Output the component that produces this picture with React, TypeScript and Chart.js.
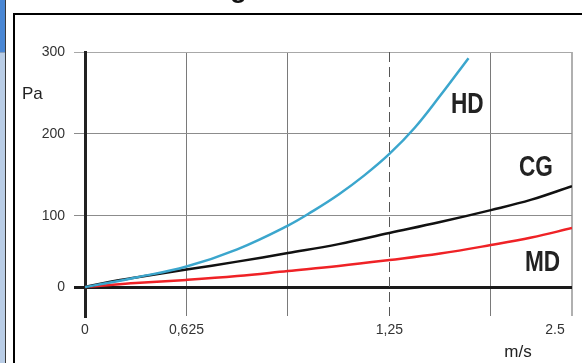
import React, { useEffect, useRef } from "react";
import { Chart, registerables } from "chart.js";
Chart.register(...registerables);

// Axis ticks (x in grid units, y in chart units)
const xTickValues = [0, 1, 2, 3, 4, 4.8];
const xTickLabels = ["0", "0,625", "", "1,25", "", "2.5"];
const yTickValues = [0, 87, 187, 287];
const yTickLabels = ["0", "100", "200", "300"];

// Series
const hdX = [0, 0.25, 0.5, 1, 1.5, 2, 2.25, 2.5, 2.75, 3, 3.25, 3.5, 3.78];
const hdY = [0, 5.5, 11.6, 25, 46, 75, 93, 113, 136, 162.5, 194.5, 233.5, 279.5];
const cgX = [0, 0.25, 0.5, 1, 1.5, 2, 2.5, 3, 3.5, 4, 4.4, 4.8];
const cgY = [0, 6.5, 11.6, 21.3, 31.0, 41.5, 52.4, 65.9, 79.3, 93.9, 106.7, 123.2];
const mdX = [0, 0.25, 0.5, 1, 1.5, 2, 2.5, 3, 3.5, 4, 4.4, 4.8];
const mdY = [0, 2.6, 4.9, 8.7, 13.4, 19.5, 25.6, 32.9, 40.9, 51.2, 60.4, 72.0];
const seriesNames = ["HD", "CG", "MD"];

const W = 582;
const H = 363;
const FONT = '"Liberation Sans", Arial, sans-serif';

const pts = (xs: number[], ys: number[]) => xs.map((x, i) => ({ x, y: ys[i] }));

export default function App() {
  const ref = useRef<HTMLCanvasElement | null>(null);

  useEffect(() => {
    if (!ref.current) return;

    const framePlugin = {
      id: "frame",
      beforeDraw(chart: any) {
        const c = chart.ctx;
        c.save();
        c.fillStyle = "#ffffff";
        c.fillRect(0, 0, W, H);
        // left strip
        c.fillStyle = "#4a87d4";
        c.fillRect(0, 0, 5, 52);
        c.fillStyle = "#b9cde6";
        c.fillRect(0, 53, 5, H - 53);
        c.fillStyle = "#8aa0bb";
        c.fillRect(0, 52, 5, 1);
        c.fillStyle = "#3a3a3a";
        c.fillRect(5, 0, 1, H);
        // black frame
        c.fillStyle = "#000000";
        c.fillRect(13, 13, W - 13, 2);
        c.fillRect(13, 13, 2, H - 13);
        // title descender
        c.fillStyle = "#111";
        c.font = "bold 28px " + FONT;
        c.textAlign = "left";
        c.textBaseline = "alphabetic";
        c.fillText("g", 230, -3);
        c.restore();
      },
      beforeDatasetsDraw(chart: any) {
        const c = chart.ctx;
        const xs = chart.scales.x;
        const a = chart.chartArea;
        const px = Math.round(xs.getPixelForValue(xTickValues[3])) + 0.5;
        c.save();
        c.strokeStyle = "#555555";
        c.lineWidth = 1;
        c.setLineDash([10, 5]);
        c.beginPath();
        c.moveTo(px, a.top);
        c.lineTo(px, a.bottom);
        c.stroke();
        c.restore();
      },
      afterDraw(chart: any) {
        const c = chart.ctx;
        const xs = chart.scales.x;
        c.save();
        c.fillStyle = "#333333";
        c.font = "14px " + FONT;
        c.textAlign = "center";
        c.textBaseline = "alphabetic";
        xTickValues.forEach((v, i) => {
          const dx = i === xTickValues.length - 1 ? -17 : 0;
          c.fillText(xTickLabels[i], xs.getPixelForValue(v) + dx, 334);
        });
        c.fillStyle = "#222222";
        c.font = "17px " + FONT;
        c.textAlign = "left";
        c.fillText("Pa", 22, 99);
        c.textAlign = "center";
        c.fillText("m/s", 518, 357);
        // series labels, condensed bold
        const lab = [
          { x: 451, y: 113 },
          { x: 519, y: 176 },
          { x: 525, y: 271 },
        ];
        c.fillStyle = "#222222";
        c.font = "bold 29px " + FONT;
        c.textAlign = "left";
        seriesNames.forEach((n, i) => {
          c.save();
          c.translate(lab[i].x, lab[i].y);
          c.scale(0.78, 1);
          c.fillText(n, 0, 0);
          c.restore();
        });
        c.restore();
      },
    };

    const lineDs = (label: string, data: any, color: string) => ({
      label,
      data,
      borderColor: color,
      borderWidth: 2.5,
      pointRadius: 0,
      tension: 0.4,
      fill: false,
    });

    const chart = new Chart(ref.current, {
      type: "line",
      data: {
        datasets: [
          lineDs(seriesNames[0], pts(hdX, hdY), "#3ba6cd"),
          lineDs(seriesNames[1], pts(cgX, cgY), "#111111"),
          lineDs(seriesNames[2], pts(mdX, mdY), "#ef2226"),
        ],
      },
      options: {
        responsive: false,
        animation: false,
        devicePixelRatio: 1,
        layout: { padding: { top: 52, left: 0, right: 10, bottom: 0 } },
        plugins: { legend: { display: false }, tooltip: { enabled: false }, title: { display: false } },
        scales: {
          x: {
            type: "linear",
            min: 0,
            max: 4.8,
            afterBuildTicks: (s: any) => {
              s.ticks = xTickValues.map((v) => ({ value: v }));
            },
            afterFit: (s: any) => {
              s.height = 47;
            },
            ticks: { display: false },
            border: { display: false },
            grid: {
              drawTicks: false,
              color: (ctx: any) => {
                const v = ctx.tick ? ctx.tick.value : -1;
                if (v === 0 || v === xTickValues[3]) return "rgba(0,0,0,0)";
                if (v === xTickValues[xTickValues.length - 1]) return "#b0b0b0";
                return "#7a7a7a";
              },
              lineWidth: (ctx: any) =>
                ctx.tick && ctx.tick.value === xTickValues[xTickValues.length - 1] ? 2 : 1,
            },
          },
          y: {
            type: "linear",
            min: -35.4,
            max: 287,
            afterBuildTicks: (s: any) => {
              s.ticks = yTickValues.map((v) => ({ value: v }));
            },
            afterFit: (s: any) => {
              s.width = 85;
            },
            ticks: {
              padding: 9,
              color: "#333333",
              font: { family: FONT, size: 14 },
              callback: (_v: any, i: number) => yTickLabels[i],
            },
            border: { display: true, color: "#222222", width: 3 },
            grid: {
              drawTicks: true,
              tickLength: 11,
              color: (ctx: any) => {
                const v = ctx.tick ? ctx.tick.value : -1;
                if (v === 0) return "#1a1a1a";
                if (v === yTickValues[yTickValues.length - 1]) return "#a8a8a8";
                return "#8c8c8c";
              },
              lineWidth: (ctx: any) => (ctx.tick && ctx.tick.value === 0 ? 3 : 1),
            },
          },
        },
      },
      plugins: [framePlugin],
    } as any);

    return () => chart.destroy();
  }, []);

  return (
    <div style={{ position: "fixed", left: 0, top: 0, width: W, height: H, background: "#fff" }}>
      <canvas ref={ref} width={W} height={H} style={{ display: "block", width: W, height: H }} />
    </div>
  );
}
